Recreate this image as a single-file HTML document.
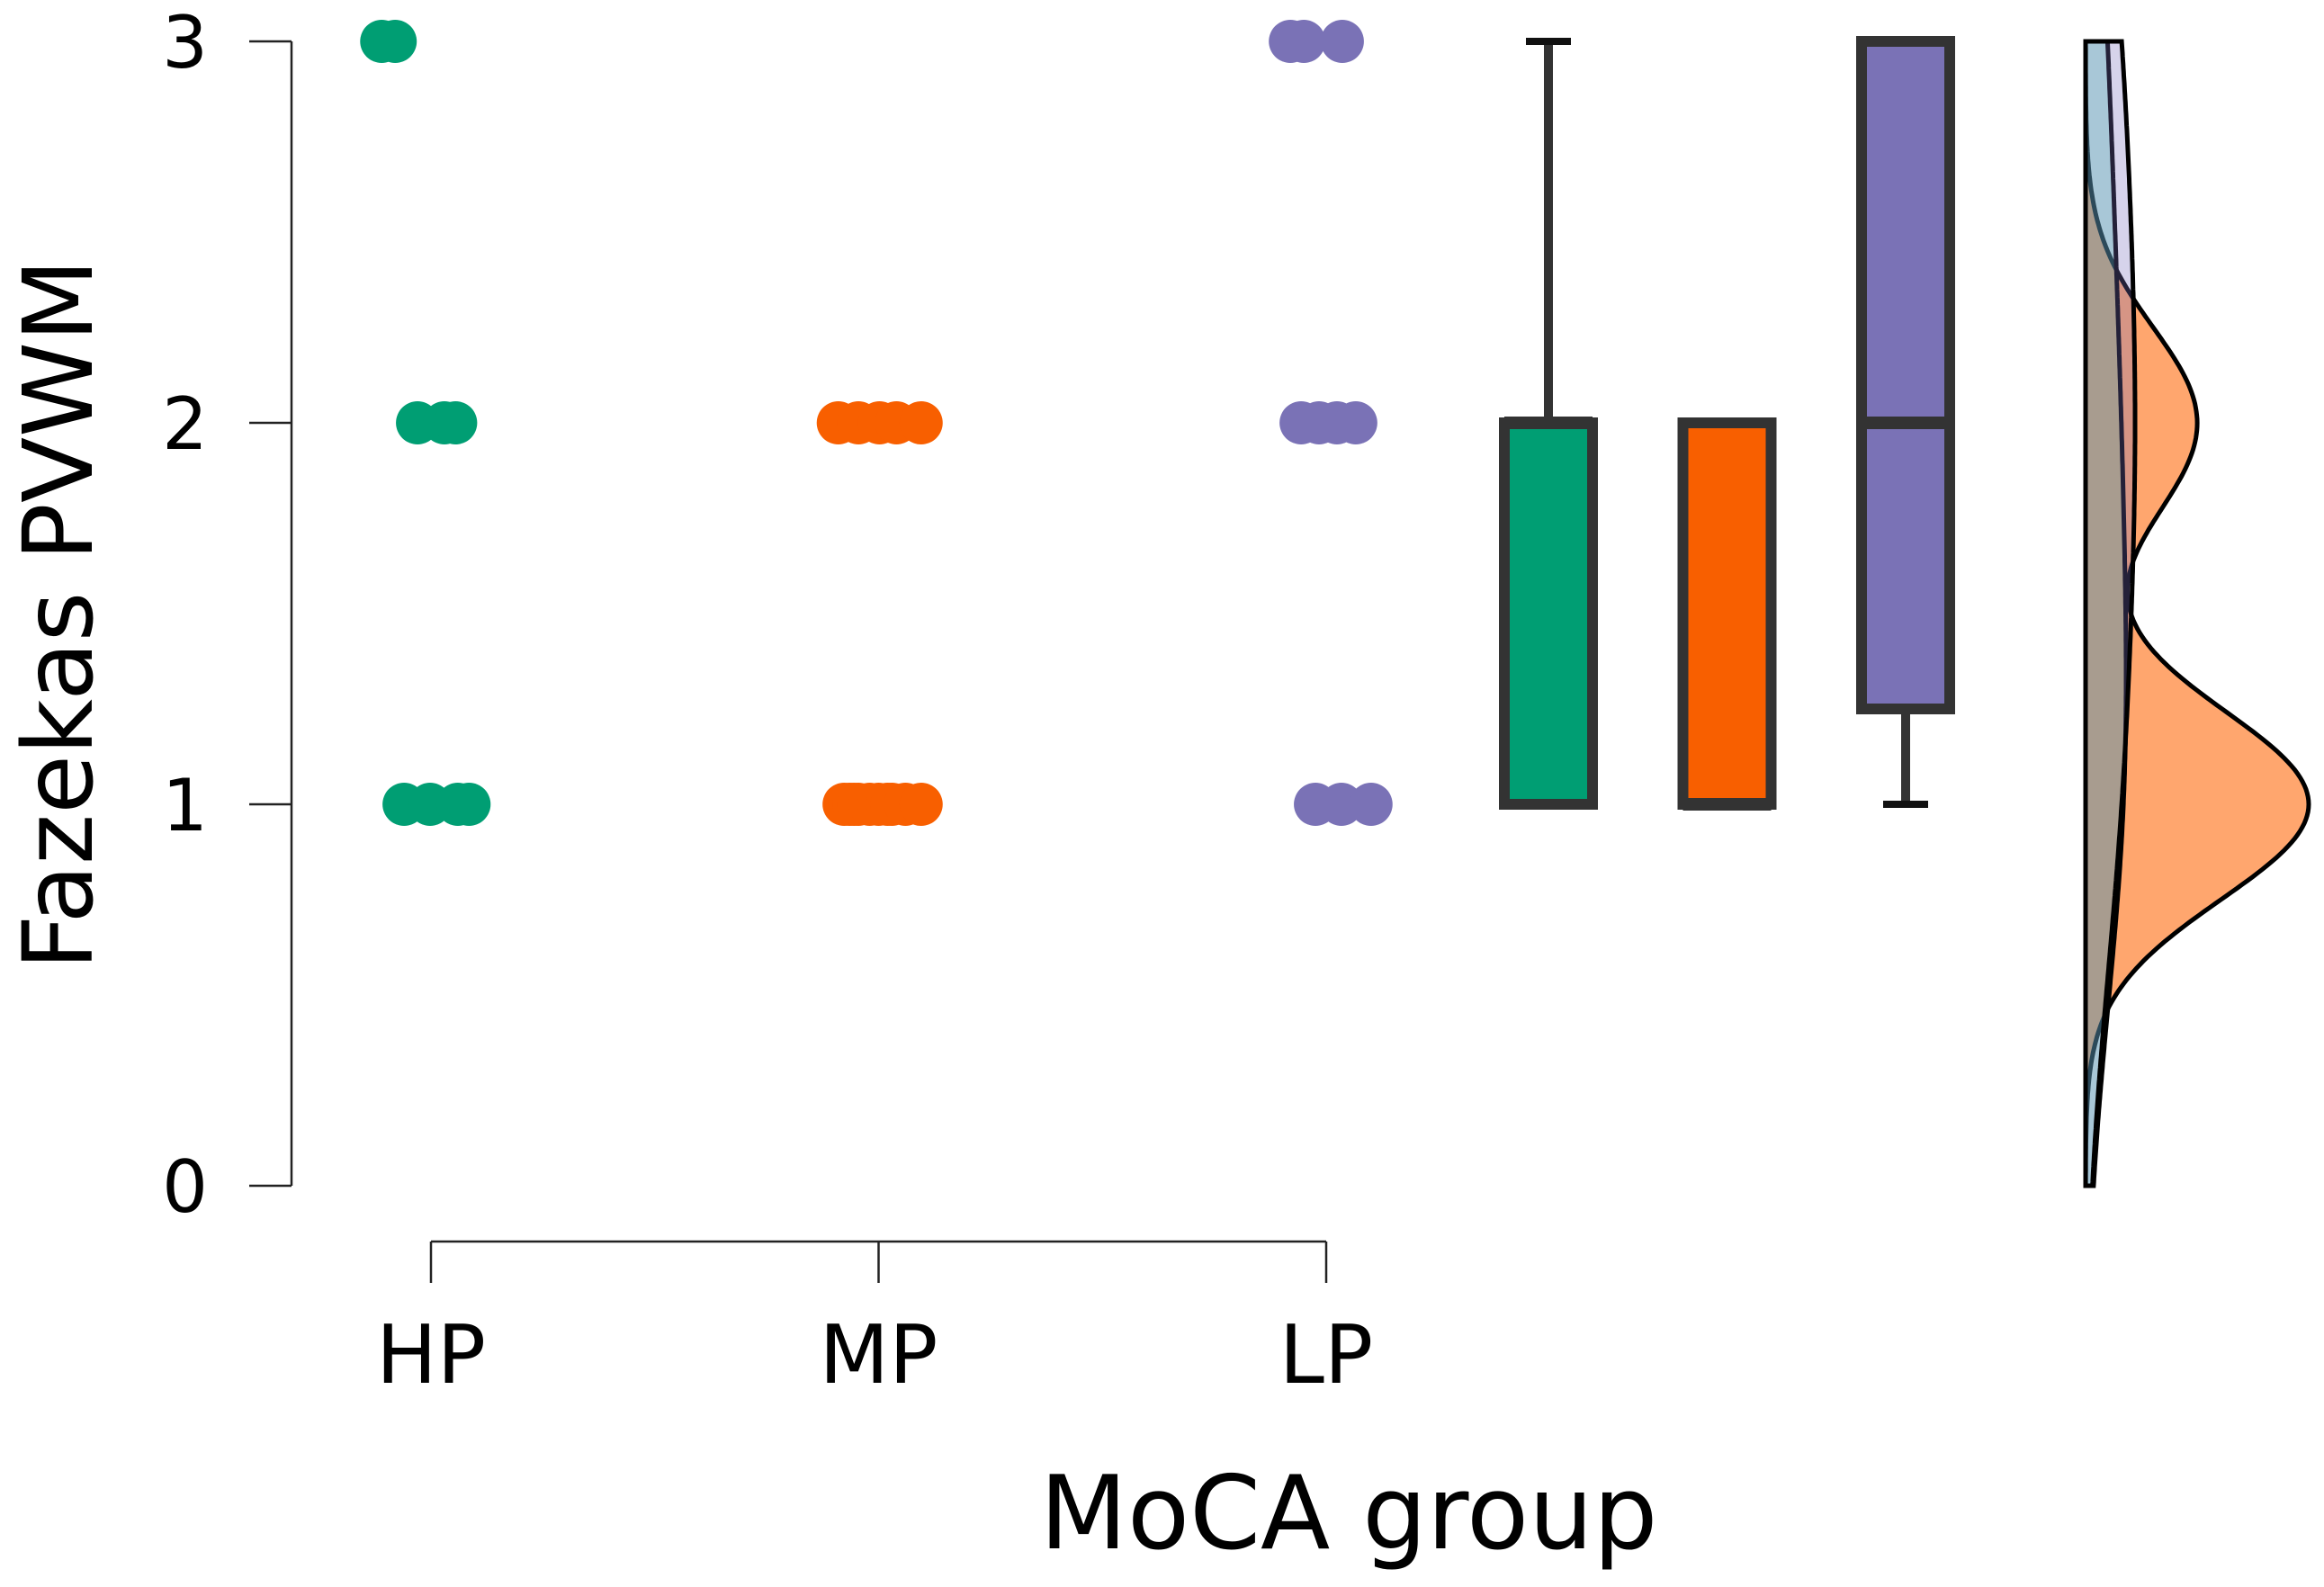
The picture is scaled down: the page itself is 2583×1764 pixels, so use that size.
<!DOCTYPE html>
<html><head><meta charset="utf-8">
<style>
html,body{margin:0;padding:0;background:#fff;}
svg{display:block;font-family:"DejaVu Sans","Liberation Sans",sans-serif;}
</style></head>
<body>
<svg id="chart" width="2583" height="1764" viewBox="0 0 2583 1764" xmlns="http://www.w3.org/2000/svg">
<g id="axes"></g>
<g id="dots"></g>
<g id="boxes"></g>
<g id="dens"></g>
<text x="0" y="0" font-size="107" text-anchor="middle" transform="translate(102,683) rotate(-90)">Fazekas PVWM</text>
<text x="1499" y="1721" font-size="113" text-anchor="middle">MoCA group</text>
</svg>
<script>
// ---- data ----
const categories = ["HP", "MP", "LP"];
const yTicks = [0, 1, 2, 3];
const colors = ["#009E73", "#F85F00", "#7A72B6"];
const densFill = ["rgba(40,200,160,0.3)", "rgba(255,150,85,0.85)", "rgba(120,110,190,0.3)"];
// observed values per group
const valuesHP = [3, 3, 2, 2, 2, 1, 1, 1, 1];
const valuesMP = [2, 2, 2, 2, 2, 1, 1, 1, 1, 1, 1, 1, 1, 1, 1];
const valuesLP = [3, 3, 3, 2, 2, 2, 2, 1, 1, 1];
// horizontal jitter in category units
const jitterHP = [-0.11, -0.08, -0.03, 0.03, 0.055, -0.06, -0.002, 0.06, 0.085];
const jitterMP = [-0.09, -0.045, 0.002, 0.04, 0.095, -0.077, -0.065, -0.055, -0.045, -0.02, 0.0, 0.02, 0.03, 0.06, 0.095];
const jitterLP = [-0.08, -0.05, 0.036, -0.056, -0.016, 0.024, 0.066, -0.024, 0.034, 0.1];
// boxplot stats
const boxQ1 = [1, 1, 1.25];
const boxMed = [2, 1, 2];
const boxQ3 = [2, 2, 3];
const whiskLo = [1, 1, 1];
const whiskHi = [3, 2, 3];
// density bandwidths and widths
const bandwidth = [0.6, 0.25, 0.6];
const densMax = [45, 248, 55];

// ---- scales ----
const y0px = 1318, y3px = 46;
const yS = v => y0px + (y3px - y0px) * v / 3;
const xS = c => 479 + c * 497.5;
const boxX = i => 1721 + i * 198.5;
const densBase = 2318;
const NS = "http://www.w3.org/2000/svg";
function mk(tag, attrs, parent) {
  const e = document.createElementNS(NS, tag);
  for (const k in attrs) e.setAttribute(k, attrs[k]);
  parent.appendChild(e);
  return e;
}
const axes = document.getElementById('axes');
const yl = mk('line', {x1: 324, x2: 324, y1: yS(3), y2: yS(0), stroke: '#222', 'stroke-width': 2.5}, axes);


yTicks.forEach(t => {
  const tk = mk('line', {x1: 277, x2: 324, y1: yS(t), y2: yS(t), stroke: '#222', 'stroke-width': 2.5}, axes);
  
  
  const tx = mk('text', {x: 231, y: yS(t) + 29, 'font-size': 80, 'text-anchor': 'end', fill: '#000'}, axes);
  tx.textContent = t;
  
  
});
const xl = mk('line', {x1: xS(0), x2: xS(2), y1: 1380, y2: 1380, stroke: '#222', 'stroke-width': 2.5}, axes);


categories.forEach((c, i) => {
  const tk = mk('line', {x1: xS(i), x2: xS(i), y1: 1380, y2: 1426, stroke: '#222', 'stroke-width': 2.5}, axes);
  
  
  const tx = mk('text', {x: xS(i), y: 1537, 'font-size': 90, 'text-anchor': 'middle', fill: '#000'}, axes);
  tx.textContent = c;
  
  
});
const groups = [valuesHP, valuesMP, valuesLP];
const jitters = [jitterHP, jitterMP, jitterLP];
const dots = document.getElementById('dots');
groups.forEach((vals, g) => {
  vals.forEach((v, i) => {
    const d = mk('circle', {cx: xS(g + jitters[g][i]), cy: yS(v), r: 24, fill: colors[g]}, dots);
    
    
  });
});
const boxes = document.getElementById('boxes');
categories.forEach((c, i) => {
  const cx = boxX(i), w = 98;
  const wh = mk('line', {x1: cx, x2: cx, y1: yS(whiskHi[i]), y2: yS(boxQ3[i]), stroke: '#333', 'stroke-width': 10}, boxes);
  
  
  const wl = mk('line', {x1: cx, x2: cx, y1: yS(boxQ1[i]), y2: yS(whiskLo[i]), stroke: '#333', 'stroke-width': 10}, boxes);
  
  
  [whiskHi[i], whiskLo[i]].forEach(v => {
    const cap = mk('line', {x1: cx - 25, x2: cx + 25, y1: yS(v), y2: yS(v), stroke: '#111', 'stroke-width': 8}, boxes);
    
    
  });
  const r = mk('rect', {x: cx - w / 2, y: yS(boxQ3[i]), width: w, height: yS(boxQ1[i]) - yS(boxQ3[i]), fill: colors[i], stroke: '#333', 'stroke-width': 12}, boxes);
  
  
  const m = mk('line', {x1: cx - w / 2, x2: cx + w / 2, y1: yS(boxMed[i]), y2: yS(boxMed[i]), stroke: '#333', 'stroke-width': 14}, boxes);
  
  
});
const dens = document.getElementById('dens');
[1, 0, 2].forEach(g => {
  const vals = groups[g], bw = bandwidth[g];
  const pts = [];
  let mx = 0;
  for (let k = 0; k <= 300; k++) {
    const y = 3 * k / 300;
    let s = 0;
    vals.forEach(v => { s += Math.exp(-0.5 * ((y - v) / bw) ** 2); });
    pts.push([y, s]);
    if (s > mx) mx = s;
  }
  let d = 'M' + densBase + ',' + yS(0);
  pts.forEach(p => { d += ' L' + (densBase + p[1] / mx * densMax[g]).toFixed(1) + ',' + yS(p[0]).toFixed(1); });
  d += ' L' + densBase + ',' + yS(3) + ' Z';
  const p = mk('path', {d: d, fill: densFill[g], stroke: '#000', 'stroke-width': 5}, dens);
  
  
});
</script>
</body></html>
